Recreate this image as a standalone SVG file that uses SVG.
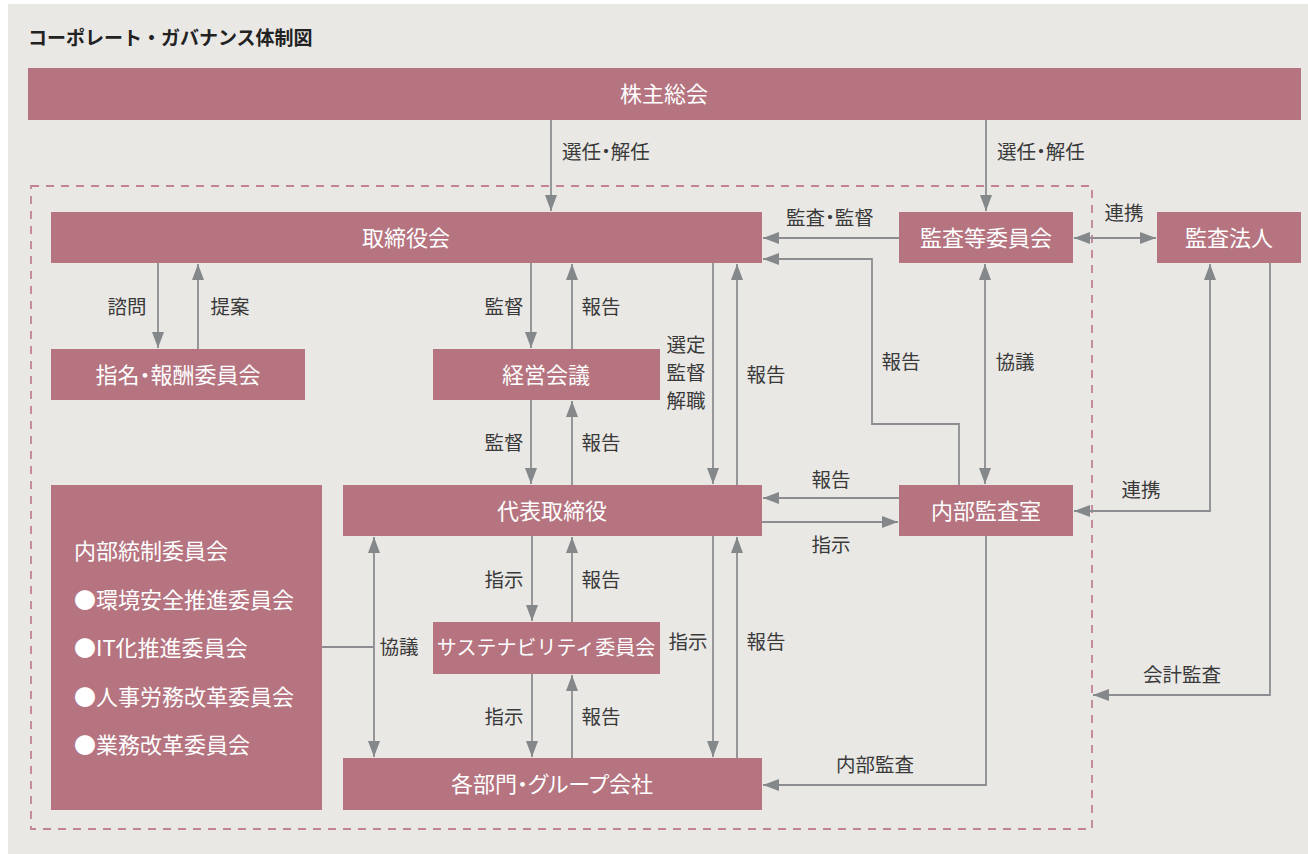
<svg xmlns="http://www.w3.org/2000/svg" width="1308" height="854" viewBox="0 0 1308 854">
<style>
.node{fill:#b57480}
.nt{fill:#ffffff;font-family:"Noto Sans CJK JP","Noto Sans",sans-serif;font-size:22px;text-anchor:middle;dominant-baseline:central;transform:translateY(-2px)}
.lt{fill:#ffffff;font-family:"Noto Sans CJK JP","Noto Sans",sans-serif;font-size:22px;dominant-baseline:central;transform:translateY(-2px)}
.el{fill:#3a3a3a;font-family:"Noto Sans CJK JP","Noto Sans",sans-serif;font-size:19.5px;text-anchor:middle;dominant-baseline:central;transform:translateY(-2px)}
.p{font-feature-settings:"palt"}
.ln{fill:none;stroke:#8b8d90;stroke-width:1.8}
.a{marker-end:url(#ah)}
.d{marker-start:url(#ah);marker-end:url(#ah)}
</style>
<defs>
<marker id="ah" markerUnits="userSpaceOnUse" markerWidth="16" markerHeight="12" refX="16" refY="6" orient="auto-start-reverse" viewBox="0 0 16 12">
<path d="M0,0 L16,6 L0,12 z" fill="#85888b"/>
</marker>
</defs>
<rect x="0" y="0" width="1308" height="854" fill="#ffffff"/>
<rect x="8" y="4" width="1300" height="850" fill="#e9e8e5"/>
<text x="28" y="36" font-family="'Noto Sans CJK JP','Noto Sans',sans-serif" font-size="19" font-weight="bold" fill="#222222" dominant-baseline="central">コーポレート・ガバナンス体制図</text>
<rect x="31" y="186" width="1061" height="643" fill="none" stroke="#c28395" stroke-width="1.8" stroke-dasharray="8 7"/>

<g id="connectors">
<path class="ln a" d="M551,120 V211"/>
<path class="ln a" d="M986,120 V211"/>
<path class="ln a" d="M899,238 H763"/>
<path class="ln a" d="M959,485 V424 H872 V259 H763"/>
<path class="ln d" d="M985,264 V484"/>
<path class="ln d" d="M1074,238 H1156"/>
<path class="ln d" d="M1210,264 V511 H1074"/>
<path class="ln a" d="M1270,263 V695 H1093"/>
<path class="ln a" d="M158,263 V348"/>
<path class="ln a" d="M198,349 V264"/>
<path class="ln a" d="M531,263 V348"/>
<path class="ln a" d="M572,349 V264"/>
<path class="ln a" d="M713,263 V484"/>
<path class="ln a" d="M737,485 V264"/>
<path class="ln a" d="M531,400 V484"/>
<path class="ln a" d="M572,485 V401"/>
<path class="ln a" d="M899,498 H763"/>
<path class="ln a" d="M762,522 H898"/>
<path class="ln a" d="M532,536 V621"/>
<path class="ln a" d="M572,622 V537"/>
<path class="ln a" d="M532,674 V757"/>
<path class="ln a" d="M572,758 V675"/>
<path class="ln a" d="M713,536 V757"/>
<path class="ln a" d="M737,758 V537"/>
<path class="ln d" d="M374,537 V757"/>
<path class="ln" d="M322,647 H374"/>
<path class="ln a" d="M986,536 V785 H763"/>
</g>

<g id="edge-labels">
<text class="el p" x="606" y="152">選任・解任</text>
<text class="el p" x="1041" y="152">選任・解任</text>
<text class="el p" x="830" y="218">監査・監督</text>
<text class="el" x="1124" y="213">連携</text>
<text class="el" x="127" y="307">諮問</text>
<text class="el" x="230" y="307">提案</text>
<text class="el" x="504" y="307">監督</text>
<text class="el" x="601" y="307">報告</text>
<text class="el" x="686" y="345">選定</text>
<text class="el" x="686" y="373">監督</text>
<text class="el" x="686" y="401">解職</text>
<text class="el" x="766" y="375">報告</text>
<text class="el" x="901" y="362">報告</text>
<text class="el" x="1015" y="362">協議</text>
<text class="el" x="504" y="443">監督</text>
<text class="el" x="601" y="443">報告</text>
<text class="el" x="831" y="480">報告</text>
<text class="el" x="831" y="545">指示</text>
<text class="el" x="1141" y="490">連携</text>
<text class="el" x="1182" y="675">会計監査</text>
<text class="el" x="504" y="580">指示</text>
<text class="el" x="601" y="580">報告</text>
<text class="el" x="399" y="647">協議</text>
<text class="el" x="688" y="642">指示</text>
<text class="el" x="766" y="642">報告</text>
<text class="el" x="504" y="717">指示</text>
<text class="el" x="601" y="717">報告</text>
<text class="el" x="875" y="765">内部監査</text>
</g>

<g id="shareholders"><rect class="node" x="28" y="68" width="1273" height="52"/><text class="nt" x="664" y="94">株主総会</text></g>
<g id="board"><rect class="node" x="51" y="212" width="711" height="51"/><text class="nt" x="406" y="238">取締役会</text></g>
<g id="audit-committee"><rect class="node" x="899" y="212" width="174" height="51"/><text class="nt" x="986" y="238">監査等委員会</text></g>
<g id="auditor"><rect class="node" x="1157" y="212" width="144" height="51"/><text class="nt" x="1229" y="238">監査法人</text></g>
<g id="nomination"><rect class="node" x="51" y="349" width="254" height="51"/><text class="nt p" x="178" y="375">指名・報酬委員会</text></g>
<g id="management"><rect class="node" x="433" y="349" width="227" height="51"/><text class="nt" x="546" y="375">経営会議</text></g>
<g id="representative"><rect class="node" x="343" y="485" width="419" height="51"/><text class="nt" x="552" y="511">代表取締役</text></g>
<g id="internal-audit"><rect class="node" x="899" y="485" width="174" height="51"/><text class="nt" x="986" y="511">内部監査室</text></g>
<g id="sustainability"><rect class="node" x="433" y="622" width="227" height="52"/><text class="nt" x="546" y="648" style="font-size:20px">サステナビリティ委員会</text></g>
<g id="departments"><rect class="node" x="343" y="758" width="419" height="52"/><text class="nt p" x="552" y="784">各部門・グループ会社</text></g>
<g id="internal-control"><rect class="node" x="51" y="485" width="271" height="325"/>
<text class="lt" x="74" y="551">内部統制委員会</text>
<text class="lt" x="74" y="600">●環境安全推進委員会</text>
<text class="lt" x="74" y="648">●IT化推進委員会</text>
<text class="lt" x="74" y="697">●人事労務改革委員会</text>
<text class="lt" x="74" y="745">●業務改革委員会</text>
</g>
</svg>
